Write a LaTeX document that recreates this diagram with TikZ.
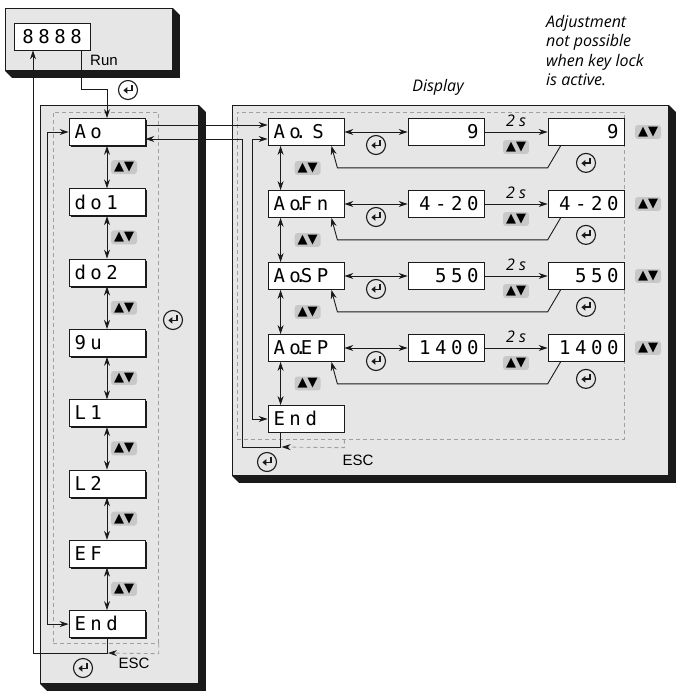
\documentclass[tikz,border=0pt]{standalone}
\usepackage{fontspec}
\setmainfont{Liberation Sans}
\newfontfamily\notefont{Open Sans}
\newfontfamily\segfont[LetterSpace=24]{DejaVu Sans Mono}
\newfontfamily\symfont{DejaVu Sans}
\usetikzlibrary{arrows.meta, positioning, calc, shadows}
\definecolor{cPanel}{HTML}{E6E6E6}
\definecolor{cKey}{HTML}{C8C8C8}
\definecolor{cDash}{HTML}{A0A0A0}
\definecolor{cInk}{HTML}{1A1A1A}
\tikzset{
  panel/.style={rectangle, draw=cInk, fill=cPanel, line width=0.8pt, anchor=north west, inner sep=0pt},
  frame/.style={rectangle, draw=cDash, dash pattern=on 4pt off 3pt, line width=0.7pt, anchor=north west, inner sep=0pt},
  disp/.style={rectangle, draw=cInk, fill=white, line width=0.8pt, minimum height=27pt,
    text width=65pt, inner xsep=5.5pt, inner ysep=0pt, text height=13.5pt, text depth=0pt,
    align=left, font=\segfont\fontsize{19}{19}\selectfont},
  dispL/.style={disp, general shadow={fill=cInk, shadow xshift=1.6pt, shadow yshift=-1.6pt}},
  dispR/.style={disp, align=right},
  updown/.style={rectangle, rounded corners=3pt, fill=cKey, inner xsep=3pt, inner ysep=2pt,
    font=\symfont\fontsize{13}{13}\selectfont},
  enter/.style={circle, draw=cInk, line width=1.1pt, minimum size=19pt, inner sep=0pt,
    path picture={\draw[line width=1.7pt, -{Triangle[length=4pt, width=6.5pt]}]
      ($(path picture bounding box.center)+(4,4.6)$) -- ++(0,-5) -- ++(-8.6,0);}},
  flow/.style={-{Stealth[length=9pt, width=6pt]}, draw=cInk, line width=0.9pt},
  twoway/.style={{Stealth[length=9pt, width=6pt]}-{Stealth[length=9pt, width=6pt]}, draw=cInk, line width=0.9pt},
  esc/.style={-{Stealth[length=9pt, width=6pt, color=cInk]}, draw=cDash, dash pattern=on 4pt off 3pt, line width=0.9pt},
  note/.style={font=\notefont\itshape\fontsize{16}{19.5}\selectfont, align=left, inner sep=0pt},
  tag/.style={font=\fontsize{15}{15}\selectfont, inner sep=0pt},
}
\newcommand{\segdot}{\makebox[0pt]{.}}

\begin{document}
\begin{tikzpicture}[x=1pt, y=1pt]
\useasboundingbox (0,0) rectangle (675,-692);
% panels with bevelled shadow
\node[panel, minimum width=167pt, minimum height=62pt] (ptop) at (5,-8) {};
\node[panel, minimum width=158pt, minimum height=578pt] (pleft) at (40,-105) {};
\node[panel, minimum width=436pt, minimum height=370pt] (pright) at (232,-105) {};
\foreach \p in {ptop, pleft, pright}
  \fill[cInk] (\p.north east) -- ++(7,-7) -- ($(\p.south east)+(7,-7)$) -- ($(\p.south west)+(7,-7)$) -- (\p.south west) -- (\p.south east) -- cycle;
\node[frame, minimum width=105pt, minimum height=531pt] (fleft) at (53,-112) {};
\node[frame, minimum width=387pt, minimum height=327pt] (fright) at (237,-112) {};
% run display
\node[disp, align=center] (run) at (52,-36.5) {8888};
\node[tag, anchor=west] (runlbl) at (90,-60) {Run};
\node[enter] (e0) at (128,-90) {};
% menu column
\node[dispL] (ao) at (107,-132) {Ao};
\node[dispL, below=42.5pt of ao] (do1) {do1};
\node[dispL, below=42.5pt of do1] (do2) {do2};
\node[dispL, below=42.5pt of do2] (nu) {9u};
\node[dispL, below=42.5pt of nu] (lo1) {L1};
\node[dispL, below=42.5pt of lo1] (lo2) {L2};
\node[dispL, below=42.5pt of lo2] (ef) {EF};
\node[dispL, below=42.5pt of ef] (lend) {End};
\foreach \a/\b [count=\i] in {ao/do1, do1/do2, do2/nu, nu/lo1, lo1/lo2, lo2/ef, ef/lend} {
  \draw[twoway] (\a.south) -- (\b.north);
  \node[updown] (lud\i) at ($(\a.south)!0.5!(\b.north)+(17,0)$) {▲▼};
}
\draw[twoway] (ao.west) -- ++(-21,0) |- (lend.west);
\node[enter] (e1) at (173,-320) {};
\coordinate (lret) at (33,-653);
\draw[flow] (lend.south) |- (lret) -- (lret |- run.south);
\draw[flow] ([xshift=-9pt]run.south east) -- ++(0,-39) -| (ao.north);
\draw[esc] (fleft.south east) -- ++(0,-10) -- ([xshift=1pt]lend.south |- lret);
\node[tag] (escL) at (134,-663) {ESC};
\node[enter] (e2) at (83,-668) {};
% sub menu
\node[disp] (as) at (306,-132) {Ao\segdot\phantom{0}S};
\node[dispR] (as1) at (446,-132) {9};
\node[dispR] (as2) at (586,-132) {9};
\node[disp] (af) at (306,-204) {Ao\segdot Fn};
\node[dispR] (af1) at (446,-204) {4-20};
\node[dispR] (af2) at (586,-204) {4-20};
\node[disp] (asp) at (306,-276) {Ao\segdot SP};
\node[dispR] (asp1) at (446,-276) {550};
\node[dispR] (asp2) at (586,-276) {550};
\node[disp] (aep) at (306,-348) {Ao\segdot EP};
\node[dispR] (aep1) at (446,-348) {1400};
\node[dispR] (aep2) at (586,-348) {1400};
\node[disp] (rend) at (306,-419) {End};
\foreach \r in {as, af, asp, aep} {
  \draw[twoway] (\r.east) -- (\r1.west);
  \node[enter] (\r-ea) at ($(\r.east)!0.5!(\r1.west)+(0,-13)$) {};
  \draw[flow] (\r1.east) -- (\r2.west) node[midway, above=5pt, note] (\r-t) {2 s};
  \node[updown] (\r-ub) at ($(\r1.east)!0.5!(\r2.west)+(0,-15)$) {▲▼};
  \node[enter] (\r-eb) at ($(\r2.south)+(0,-17)$) {};
  \node[updown] (\r-ur) at ($(\r2.center)+(62,0)$) {▲▼};
  \draw[flow] ([xshift=13pt]\r2.south west) -- ++(-13,-22) -- ([xshift=-7pt, yshift=-22pt]\r.south east) -- ([xshift=-13pt]\r.south east);
}
\foreach \a/\b [count=\i] in {as/af, af/asp, asp/aep, aep/rend} {
  \draw[twoway] ([xshift=13pt]\a.south west) -- ([xshift=13pt]\b.north west);
  \node[updown] (rud\i) at ($(\a.south west)!0.5!(\b.north west)+(40,0)$) {▲▼};
}
\draw[flow] ([yshift=7pt]ao.east) -- ([yshift=7pt]as.west);
\draw[twoway] ([yshift=-7pt]as.west) -- ++(-15,0) |- (rend.west);
\coordinate (rret) at (242,-447);
\coordinate (rdrop) at ([xshift=13pt]rend.south west);
\draw[flow] (rdrop) |- (rret) |- ([yshift=-7pt]ao.east);
\draw[esc] (fright.south -| rend.east) -- ++(0,-8) -- ([xshift=1pt]rdrop |- rret);
\node[tag] (escR) at (358,-460) {ESC};
\node[enter] (e3) at (267,-462) {};
% notes
\node[note] (dsp) at (438,-87) {Display};
\node[note, anchor=north west] (lock) at (546,-15) {Adjustment\\not possible\\when key lock\\is active.};
\end{tikzpicture}
\end{document}
